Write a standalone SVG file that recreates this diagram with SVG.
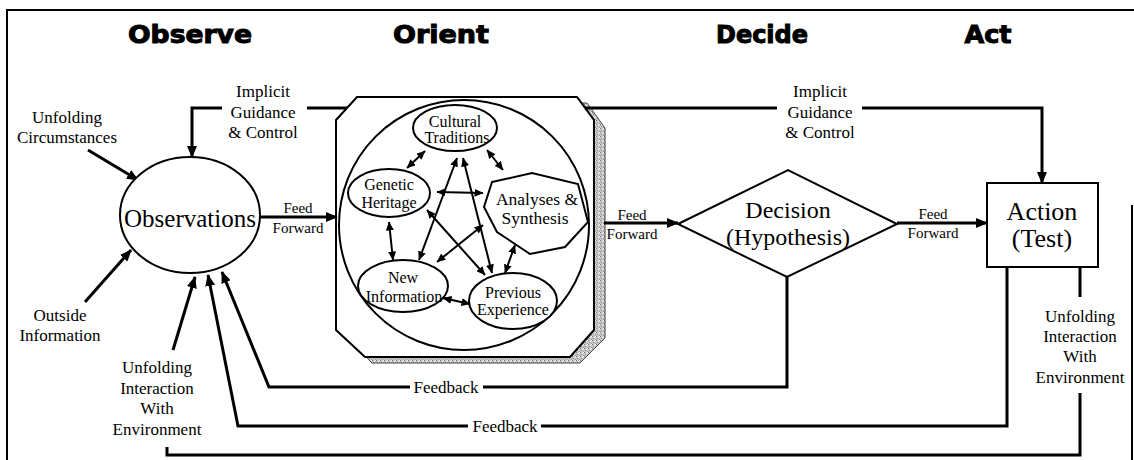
<svg xmlns="http://www.w3.org/2000/svg" width="1134" height="460" viewBox="0 0 1134 460">
<style>
.title{font-family:"DejaVu Sans",sans-serif;font-weight:bold;font-size:24px;fill:#000;stroke:#000;stroke-width:1;text-anchor:middle}
.lbl{font-family:"Liberation Serif","Times New Roman",serif;font-size:17px;fill:#000;text-anchor:middle}
.ff{font-family:"Liberation Serif","Times New Roman",serif;font-size:15px;fill:#000;text-anchor:middle}
.inner{font-family:"Liberation Serif","Times New Roman",serif;font-size:16px;fill:#000;text-anchor:middle}
.big{font-family:"Liberation Serif","Times New Roman",serif;font-size:25px;fill:#000;text-anchor:middle}
.shape{fill:#fff;stroke:#000;stroke-width:2}
.frame{fill:none;stroke:#000;stroke-width:2}
.conn{fill:none;stroke:#000;stroke-width:3;stroke-linejoin:miter}
.arr{marker-end:url(#ah)}
.dbl{fill:none;stroke:#000;stroke-width:2;marker-start:url(#sh);marker-end:url(#sh)}
</style>
<defs>
<marker id="ah" markerUnits="userSpaceOnUse" markerWidth="12" markerHeight="10" refX="11" refY="5" orient="auto">
<path d="M0,0 L12,5 L0,10 z" fill="#000"/>
</marker>
<marker id="sh" markerUnits="userSpaceOnUse" markerWidth="9" markerHeight="8" refX="8.5" refY="4" orient="auto-start-reverse">
<path d="M0,0 L9,4 L0,8 z" fill="#000"/>
</marker>
<pattern id="stip" width="4" height="4" patternUnits="userSpaceOnUse">
<rect width="4" height="4" fill="#c8c8c8"/>
<rect x="0" y="0" width="1" height="1" fill="#777"/>
<rect x="2" y="1" width="1" height="1" fill="#eee"/>
<rect x="1" y="2" width="1" height="1" fill="#888"/>
<rect x="3" y="3" width="1" height="1" fill="#999"/>
<rect x="3" y="0" width="1" height="1" fill="#f4f4f4"/>
</pattern>
</defs>
<rect width="1134" height="460" fill="#fff"/>
<g id="frame">
<path class="frame" d="M7,460 V10 H1134"/>
<path class="frame" d="M1132,205 V460"/>
</g>
<g id="titles">
<text class="title" x="190" y="43" textLength="124" lengthAdjust="spacingAndGlyphs">Observe</text>
<text class="title" x="441" y="43" textLength="96" lengthAdjust="spacingAndGlyphs">Orient</text>
<text class="title" x="762" y="43" textLength="92" lengthAdjust="spacingAndGlyphs">Decide</text>
<text class="title" x="988" y="43" textLength="47" lengthAdjust="spacingAndGlyphs">Act</text>
</g>
<g id="orient">
<polygon points="346,126 367,103 587,103 605,128 605,338 580,363 372,363 346,336" fill="url(#stip)" stroke="#444" stroke-width="1"/>
<polygon class="shape" points="336,120 357,97 577,97 594,120 594,330 570,357 365,357 336,330"/>
<circle cx="464" cy="225" r="125" fill="none" stroke="#000" stroke-width="2"/>
</g>
<g id="connectors">
<line class="conn arr" x1="88" y1="150" x2="138" y2="180"/>
<line class="conn arr" x1="85" y1="302" x2="131" y2="250"/>
<line class="conn arr" x1="173" y1="350" x2="195" y2="277"/>
<path class="conn" d="M347,108 H307"/>
<path class="conn arr" d="M222,108 H192 V157"/>
<path class="conn" d="M585,108 H777"/>
<path class="conn arr" d="M862,108 H1042 V183"/>
<path class="conn arr" d="M260,217 H337"/>
<path class="conn arr" d="M604,223 H678"/>
<path class="conn arr" d="M897,223 H987"/>
<path class="conn" d="M787,277 V387 H483"/>
<path class="conn arr" d="M410,387 H269 L222,272"/>
<path class="conn" d="M1007,267 V426 H541"/>
<path class="conn arr" d="M468,426 H238 L208,275"/>
<path class="conn" d="M1080,267 V297"/>
<path class="conn" d="M1080,393 V455 H167 V447"/>
<line class="dbl" x1="425" y1="151" x2="407" y2="168"/>
<line class="dbl" x1="487" y1="150" x2="503" y2="170"/>
<line class="dbl" x1="437" y1="192" x2="483" y2="193"/>
<line class="dbl" x1="389" y1="222" x2="393" y2="260"/>
<line class="dbl" x1="515" y1="245" x2="505" y2="273"/>
<line class="dbl" x1="443" y1="298" x2="470" y2="304"/>
<line class="dbl" x1="457" y1="158" x2="419" y2="260"/>
<line class="dbl" x1="463" y1="158" x2="492" y2="273"/>
<line class="dbl" x1="427" y1="210" x2="485" y2="275"/>
<line class="dbl" x1="483" y1="225" x2="437" y2="262"/>
</g>
<g id="labels">
<text class="lbl" x="263" y="97">Implicit</text>
<text class="lbl" x="263" y="118">Guidance</text>
<text class="lbl" x="263" y="138">&amp; Control</text>
<text class="lbl" x="820" y="97">Implicit</text>
<text class="lbl" x="820" y="118">Guidance</text>
<text class="lbl" x="820" y="138">&amp; Control</text>
<text class="lbl" x="67" y="123">Unfolding</text>
<text class="lbl" x="67" y="143">Circumstances</text>
<text class="lbl" x="60" y="321">Outside</text>
<text class="lbl" x="60" y="341">Information</text>
<text class="lbl" x="157" y="373">Unfolding</text>
<text class="lbl" x="157" y="394">Interaction</text>
<text class="lbl" x="157" y="414">With</text>
<text class="lbl" x="157" y="435">Environment</text>
<text class="lbl" x="1080" y="322">Unfolding</text>
<text class="lbl" x="1080" y="342">Interaction</text>
<text class="lbl" x="1080" y="362">With</text>
<text class="lbl" x="1080" y="383">Environment</text>
<text class="ff" x="298" y="213">Feed</text>
<text class="ff" x="298" y="233">Forward</text>
<text class="ff" x="632" y="220">Feed</text>
<text class="ff" x="632" y="239">Forward</text>
<text class="ff" x="933" y="219">Feed</text>
<text class="ff" x="933" y="238">Forward</text>
<text class="lbl" x="446" y="393">Feedback</text>
<text class="lbl" x="505" y="432">Feedback</text>
</g>
<g id="observations">
<ellipse class="shape" cx="190" cy="215" rx="70" ry="58"/>
<text class="big" x="190" y="227">Observations</text>
</g>
<g id="cultural-traditions">
<ellipse class="shape" cx="455" cy="128" rx="42" ry="23"/>
<text class="inner" x="455" y="127">Cultural</text>
<text class="inner" x="457" y="143">Traditions</text>
</g>
<g id="genetic-heritage">
<ellipse class="shape" cx="389" cy="193" rx="41" ry="24"/>
<text class="inner" x="389" y="190">Genetic</text>
<text class="inner" x="389" y="208">Heritage</text>
</g>
<g id="analyses-synthesis">
<polygon class="shape" points="492,182 532,173 578,184 588,222 565,247 530,254 497,232 484,207"/>
<text class="inner" x="537" y="205" style="font-size:17.5px">Analyses &amp;</text>
<text class="inner" x="535" y="224" style="font-size:17.5px">Synthesis</text>
</g>
<g id="new-information">
<ellipse class="shape" cx="403" cy="286" rx="45" ry="26"/>
<text class="inner" x="403" y="283">New</text>
<text class="inner" x="404" y="302">Information</text>
</g>
<g id="previous-experience">
<ellipse class="shape" cx="513" cy="301" rx="44" ry="28"/>
<text class="inner" x="513" y="298">Previous</text>
<text class="inner" x="513" y="315">Experience</text>
</g>
<g id="decision">
<polygon class="shape" points="678,224 788,170 897,224 787,277"/>
<text class="big" x="788" y="218" style="font-size:24px">Decision</text>
<text class="big" x="788" y="245" style="font-size:24px">(Hypothesis)</text>
</g>
<g id="action">
<rect class="shape" x="987" y="183" width="111" height="84"/>
<text class="big" x="1042" y="220" style="font-size:26px">Action</text>
<text class="big" x="1042" y="247" style="font-size:26px">(Test)</text>
</g>
</svg>
